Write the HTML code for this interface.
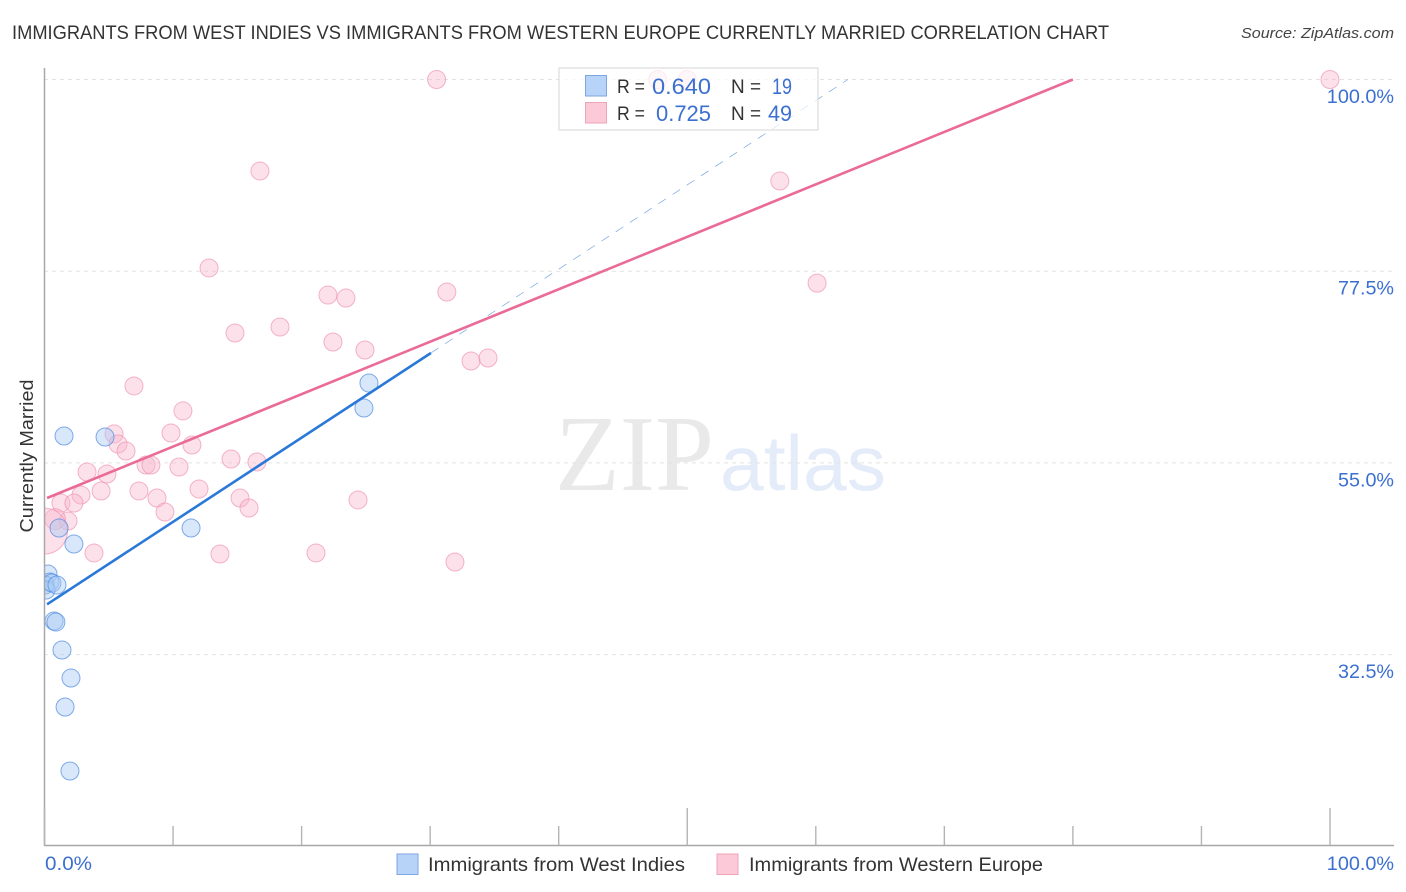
<!DOCTYPE html>
<html lang="en">
<head>
<meta charset="utf-8">
<title>Immigrants from West Indies vs Immigrants from Western Europe Currently Married Correlation Chart</title>
<style>
html,body{margin:0;padding:0;background:#fff;}
svg{display:block;font-family:"Liberation Sans",sans-serif;}
</style>
</head>
<body>
<svg id="chart" xmlns="http://www.w3.org/2000/svg" width="1406" height="892" viewBox="0 0 1406 892">
  <defs><clipPath id="plot-clip"><rect x="44" y="60" width="1350" height="785"/></clipPath></defs>
  <text x="12" y="39" font-size="19.5" fill="#333" textLength="1097" lengthAdjust="spacingAndGlyphs">IMMIGRANTS FROM WEST INDIES VS IMMIGRANTS FROM WESTERN EUROPE CURRENTLY MARRIED CORRELATION CHART</text>
  <text x="1241" y="38" font-size="15" font-style="italic" fill="#444" textLength="153" lengthAdjust="spacingAndGlyphs">Source: ZipAtlas.com</text>
  <g>
    <text x="555" y="490" font-family="'Liberation Serif',serif" font-size="108" fill="#e9e9e9" textLength="159" lengthAdjust="spacingAndGlyphs">ZIP</text>
    <text x="720" y="490" font-size="78" fill="#e4ecf9" textLength="166" lengthAdjust="spacingAndGlyphs">atlas</text>
  </g>
  <g id="grid"></g>
  <g id="series" clip-path="url(#plot-clip)"></g>
  <g id="axes"></g>
  <text transform="translate(33,456) rotate(-90)" text-anchor="middle" font-size="18" fill="#333" textLength="153" lengthAdjust="spacingAndGlyphs">Currently Married</text>

  <g>
    <rect x="559" y="68" width="259" height="62" fill="#fff" fill-opacity="0.72" stroke="#ddd" stroke-width="1.2"/>
    <rect x="585.5" y="75.5" width="21" height="20.5" fill="#b8d3f8" stroke="#7ea6e0"/>
    <rect x="585.5" y="102.5" width="21" height="20.5" fill="#fcc9d9" stroke="#eda3b8"/>
    <text x="617" y="93" font-size="19.5" fill="#333" textLength="28" lengthAdjust="spacingAndGlyphs">R =</text>
    <text x="652" y="94" font-size="22" fill="#3b6fd0" textLength="59" lengthAdjust="spacingAndGlyphs">0.640</text>
    <text x="731" y="93" font-size="19.5" fill="#333" textLength="30" lengthAdjust="spacingAndGlyphs">N =</text>
    <text x="772" y="94" font-size="22" fill="#3b6fd0" textLength="20" lengthAdjust="spacingAndGlyphs">19</text>
    <text x="617" y="120" font-size="19.5" fill="#333" textLength="28" lengthAdjust="spacingAndGlyphs">R =</text>
    <text x="656" y="121" font-size="22" fill="#3b6fd0" textLength="55" lengthAdjust="spacingAndGlyphs">0.725</text>
    <text x="731" y="120" font-size="19.5" fill="#333" textLength="30" lengthAdjust="spacingAndGlyphs">N =</text>
    <text x="768" y="121" font-size="22" fill="#3b6fd0" textLength="24" lengthAdjust="spacingAndGlyphs">49</text>
  </g>

  <g>
    <rect x="397" y="854" width="21" height="20.5" fill="#b8d3f8" stroke="#7ea6e0"/>
    <text x="428" y="871" font-size="19.5" fill="#333" textLength="257" lengthAdjust="spacingAndGlyphs">Immigrants from West Indies</text>
    <rect x="717" y="854" width="21" height="20.5" fill="#fcc9d9" stroke="#eda3b8"/>
    <text x="749" y="871" font-size="19.5" fill="#333" textLength="294" lengthAdjust="spacingAndGlyphs">Immigrants from Western Europe</text>
  </g>
</svg>
<script>
const xTickValues = [0, 10, 20, 30, 40, 50, 60, 70, 80, 90, 100];
const xTickMajor = [0, 50, 100];
const xEndLabels = ["0.0%", "100.0%"];
const yTickValues = [100, 77.5, 55, 32.5];
const yTickLabels = ["100.0%", "77.5%", "55.0%", "32.5%"];

const westIndiesX = [1.52, 4.71, 1.13, 2.29, 11.4, 25.24, 24.85, 0.27, 0.43, 0.04, 0.12, 0.58, 0.97, 0.74, 0.89, 1.36, 2.06, 1.6, 1.98];
const westIndiesY = [58.16, 58.04, 47.36, 45.48, 47.36, 64.38, 61.44, 41.96, 41.02, 40.67, 40.08, 40.9, 40.67, 36.44, 36.32, 33.04, 29.75, 26.35, 18.84];

const westernEuropeX = [30.5, 47.7, 50, 100, 16.76, 57.2, 12.8, 60.1, 22.05, 23.45, 31.3, 18.32, 14.82, 22.44, 24.93, 33.18, 34.5, 6.96, 10.77, 5.41, 9.84, 5.72, 6.34, 11.47, 3.31, 4.86, 7.9, 8.28, 10.46, 14.51, 16.53, 4.4, 2.84, 7.35, 8.75, 12.02, 15.21, 1.28, 2.29, 15.91, 9.37, 24.39, 1.83, 0.82, 3.85, 13.65, 21.12, 31.93, 0];
const westernEuropeY = [100, 100, 100, 100, 89.26, 88.09, 77.88, 76.1, 74.7, 74.35, 75.06, 70.95, 70.25, 69.19, 68.25, 66.96, 67.31, 64.03, 61.1, 58.4, 58.51, 57.22, 56.4, 57.1, 53.93, 53.7, 54.75, 54.75, 54.52, 55.46, 55.11, 51.7, 51.23, 51.7, 50.88, 51.94, 50.88, 50.29, 50.29, 49.71, 49.24, 50.65, 48.18, 48.4, 44.43, 44.31, 44.43, 43.37, 47];
const westernEuropeWeights = [1,1,1,1,1,1,1,1,1,1,1,1,1,1,1,1,1,1,1,1,1,1,1,1,1,1,1,1,1,1,1,1,1,1,1,1,1,1,1,1,1,1,1,1.15,1,1,1,1,2.55];

const westIndiesTrendX = [0.2, 30.06, 62.5];
const westIndiesTrendY = [38.4, 67.9, 100];
const westernEuropeTrendX = [0.2, 80];
const westernEuropeTrendY = [50.88, 100];

const NS = "http://www.w3.org/2000/svg";
const xPos = v => 44.5 + v * 12.855;
const yPos = v => 79.5 + (100 - v) * 8.52;
const labelWidth = s => s.length * 11.2;
const baseRadius = 9;
const gridG = document.getElementById("grid");
const seriesG = document.getElementById("series");
const axesG = document.getElementById("axes");

function make(parent, tag, attrs) {
  const el = document.createElementNS(NS, tag);
  Object.keys(attrs).forEach(k => el.setAttribute(k, attrs[k]));
  parent.appendChild(el);
  return el;
}

yTickValues.forEach((v, i) => {
  const line = make(gridG, "line", {x1: 44, x2: 1394, y1: yPos(v), y2: yPos(v), stroke: "#e2e2e2", "stroke-width": 1, "stroke-dasharray": "4 4"});
  
  
  const label = make(axesG, "text", {x: 1394, y: yPos(v) + 23.5, "text-anchor": "end", "font-size": 19.5, fill: "#3b6fd0", textLength: labelWidth(yTickLabels[i]), lengthAdjust: "spacingAndGlyphs"});
  label.textContent = yTickLabels[i];
  
  
});

const leftAxis = make(axesG, "line", {x1: 44.5, x2: 44.5, y1: 68, y2: 845.5, stroke: "#a8a8a8", "stroke-width": 1.5});


const bottomAxis = make(axesG, "line", {x1: 44, x2: 1394, y1: 845.5, y2: 845.5, stroke: "#a8a8a8", "stroke-width": 1.5});



xTickValues.forEach(v => {
  const top = xTickMajor.includes(v) ? 808 : 826;
  const tick = make(axesG, "line", {x1: xPos(v), x2: xPos(v), y1: top, y2: 845, stroke: "#b4b4b4", "stroke-width": 1.4});
  
  
});

const xLabelLeft = make(axesG, "text", {x: 45, y: 870, "font-size": 19.5, fill: "#3b6fd0", textLength: 47, lengthAdjust: "spacingAndGlyphs"});
xLabelLeft.textContent = xEndLabels[0];


const xLabelRight = make(axesG, "text", {x: 1394, y: 870, "text-anchor": "end", "font-size": 19.5, fill: "#3b6fd0", textLength: labelWidth(xEndLabels[1]), lengthAdjust: "spacingAndGlyphs"});
xLabelRight.textContent = xEndLabels[1];



westernEuropeX.forEach((x, i) => {
  const dot = make(seriesG, "circle", {cx: xPos(x), cy: yPos(westernEuropeY[i]), r: baseRadius * westernEuropeWeights[i], fill: "#f9b8cd", "fill-opacity": 0.42, stroke: "#ee8fae", "stroke-opacity": 0.65, "stroke-width": 1});
  
  
});

westIndiesX.forEach((x, i) => {
  const dot = make(seriesG, "circle", {cx: xPos(x), cy: yPos(westIndiesY[i]), r: baseRadius, fill: "#a9c9f5", "fill-opacity": 0.45, stroke: "#4f8ae0", "stroke-opacity": 0.7, "stroke-width": 1});
  
  
});

const blueSolid = make(seriesG, "line", {x1: xPos(westIndiesTrendX[0]), y1: yPos(westIndiesTrendY[0]), x2: xPos(westIndiesTrendX[1]), y2: yPos(westIndiesTrendY[1]), stroke: "#2a78d8", "stroke-width": 2.6});


const blueDash = make(seriesG, "line", {x1: xPos(westIndiesTrendX[1]), y1: yPos(westIndiesTrendY[1]), x2: xPos(westIndiesTrendX[2]), y2: yPos(westIndiesTrendY[2]), stroke: "#3b7fd8", "stroke-width": 0.7, "stroke-dasharray": "9 8", "stroke-opacity": 0.7});


const pinkLine = make(seriesG, "line", {x1: xPos(westernEuropeTrendX[0]), y1: yPos(westernEuropeTrendY[0]), x2: xPos(westernEuropeTrendX[1]), y2: yPos(westernEuropeTrendY[1]), stroke: "#ea6a98", "stroke-width": 2.6});


</script>
</body>
</html>
